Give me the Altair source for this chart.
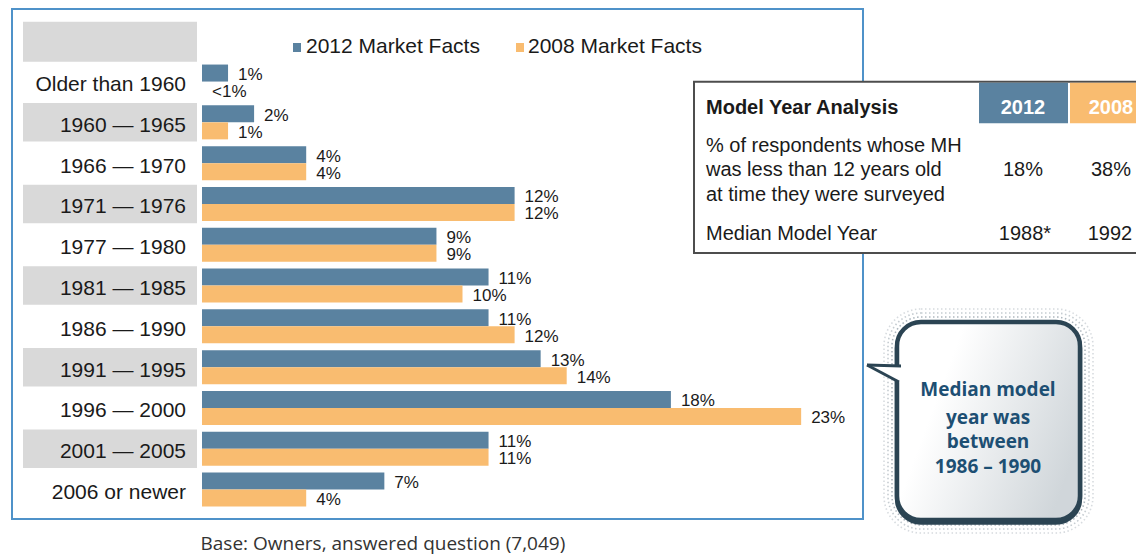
import altair as alt
import pandas as pd

# ---------------- data ----------------
categories = ["Older than 1960", "1960 — 1965", "1966 — 1970", "1971 — 1976",
              "1977 — 1980", "1981 — 1985", "1986 — 1990", "1991 — 1995",
              "1996 — 2000", "2001 — 2005", "2006 or newer"]
series_keys = ["2012", "2008"]
series_names = ["2012 Market Facts", "2008 Market Facts"]
values_2012 = [1, 2, 4, 12, 9, 11, 11, 13, 18, 11, 7]
values_2008 = [0, 1, 4, 12, 9, 10, 12, 14, 23, 11, 4]
labels_2012 = ["1%", "2%", "4%", "12%", "9%", "11%", "11%", "13%", "18%", "11%", "7%"]
labels_2008 = ["<1%", "1%", "4%", "12%", "9%", "10%", "12%", "14%", "23%", "11%", "4%"]
shaded_rows = ["1960 — 1965", "1971 — 1976", "1981 — 1985", "1991 — 1995", "2001 — 2005"]

table_title = "Model Year Analysis"
table_row1 = ["% of respondents whose MH", "was less than 12 years old", "at time they were surveyed"]
table_row1_vals = ["18%", "38%"]
table_row2 = "Median Model Year"
table_row2_vals = ["1988*", "1992"]
bubble_lines = ["Median model", "year was", "between", "1986 – 1990"]
footnote = "Base: Owners, answered question (7,049)"

BLUE = "#5a82a0"
ORANGE = "#f9bc70"
GRAY = "#d9d9d9"
TXT = "#1a1a1a"
FONT = "Liberation Sans"

rows = []
for i, c in enumerate(categories):
    rows.append({"cat": c, "s": series_keys[0], "value": values_2012[i], "label": labels_2012[i]})
    rows.append({"cat": c, "s": series_keys[1], "value": values_2008[i], "label": labels_2008[i]})
df = pd.DataFrame(rows)
cat_df = pd.DataFrame({"cat": categories})
shade_df = pd.DataFrame({"cat": shaded_rows})
one = pd.DataFrame({"k": [0]})

W, H = 1128, 548
PX_PER = 26.05
X0 = 194
xscale = alt.Scale(domain=[-X0 / PX_PER, (W - X0) / PX_PER], nice=False, zero=False)
yscale = alt.Scale(domain=categories, range=[53.16, 501.96], paddingInner=0.056, paddingOuter=0.028)
offscale = alt.Scale(domain=series_keys, paddingInner=0, paddingOuter=0.132)
cscale = alt.Scale(domain=series_keys, range=[BLUE, ORANGE])


def txt(s, x, y, size=20, weight="normal", align="left", color=TXT, font=FONT, baseline="middle"):
    return alt.Chart(one).mark_text(text=s, align=align, baseline=baseline, fontSize=size,
                                    fontWeight=weight, color=color, font=font).encode(
        x=alt.value(x), y=alt.value(y))


def box(x, x2, y, y2, **kw):
    return alt.Chart(one).mark_rect(**kw).encode(
        x=alt.value(x), x2=alt.value(x2), y=alt.value(y), y2=alt.value(y2))


layers = []
# header gray box + shaded rows
layers.append(box(15, 189, 13.7, 53.7, color=GRAY))
layers.append(alt.Chart(shade_df).mark_rect(color=GRAY).encode(
    x=alt.value(15), x2=alt.value(189),
    y=alt.Y("cat:N", scale=yscale, axis=None)))

# bars
layers.append(alt.Chart(df).mark_bar().encode(
    x=alt.X("value:Q", scale=xscale, axis=None),
    y=alt.Y("cat:N", scale=yscale, axis=None),
    yOffset=alt.YOffset("s:N", scale=offscale),
    color=alt.Color("s:N", scale=cscale, legend=None)))

# value labels
layers.append(alt.Chart(df).mark_text(align="left", baseline="middle", dx=10, dy=2,
                                      fontSize=17, font=FONT, color=TXT).encode(
    x=alt.X("value:Q", scale=xscale, axis=None),
    y=alt.Y("cat:N", scale=yscale, axis=None),
    yOffset=alt.YOffset("s:N", scale=offscale),
    text="label:N"))

# category labels
layers.append(alt.Chart(cat_df).mark_text(align="right", baseline="middle", dy=3.5,
                                          fontSize=21, font=FONT, color=TXT).encode(
    x=alt.value(178),
    y=alt.Y("cat:N", scale=yscale, axis=None),
    text="cat:N"))

# legend
layers.append(box(285, 293, 35, 44, color=BLUE))
layers.append(txt(series_names[0], 298, 45, size=21, baseline="alphabetic"))
layers.append(box(508, 516, 35, 44, color=ORANGE))
layers.append(txt(series_names[1], 520, 45, size=21, baseline="alphabetic"))

# blue frame
layers.append(box(4, 855, 1, 511, fillOpacity=0, stroke="#4f92c9", strokeWidth=2))

# table
layers.append(box(686, 1150, 73.7, 245, fill="white", stroke="#4d4d4d", strokeWidth=2))
layers.append(box(971, 1060, 74.7, 115.3, color=BLUE))
layers.append(box(1062, 1150, 74.7, 115.3, color=ORANGE))
layers.append(txt(table_title, 698, 100, size=20, weight="bold"))
layers.append(txt(series_keys[0], 1015, 100, size=20, weight="bold", align="center", color="white"))
layers.append(txt(series_keys[1], 1103, 100, size=20, weight="bold", align="center", color="white"))
for line, yy in zip(table_row1, [138, 162, 187]):
    layers.append(txt(line, 698, yy, size=20))
layers.append(txt(table_row1_vals[0], 1015, 162, size=20, align="center"))
layers.append(txt(table_row1_vals[1], 1103, 162, size=20, align="center"))
layers.append(txt(table_row2, 698, 226, size=20))
layers.append(txt(table_row2_vals[0], 1017, 226, size=20, align="center"))
layers.append(txt(table_row2_vals[1], 1102, 226, size=20, align="center"))

# speech bubble
for d, op in [(13, 0.35), (9, 0.5), (5, 0.7)]:
    layers.append(box(889 - d, 1072 + d, 314 - d, 512 + d, cornerRadius=24 + d, fillOpacity=0,
                      stroke="#8c99a3", strokeWidth=1.6, strokeDash=[1.5, 2.5], strokeOpacity=op))
grad = alt.Gradient(gradient="linear",
                    stops=[alt.GradientStop(color="#ffffff", offset=0),
                           alt.GradientStop(color="#ffffff", offset=0.25),
                           alt.GradientStop(color="#d0d6da", offset=1)],
                    x1=0, x2=1, y1=0.2, y2=0.6)
layers.append(box(889, 1072, 316.5, 514.5, cornerRadius=24, fill="#2b4453", stroke="#2b4453", strokeWidth=4.5))
layers.append(box(889, 1072, 314, 512, cornerRadius=24, fill=grad, stroke="#2b4453", strokeWidth=4.5))
layers.append(alt.Chart(one).mark_point(shape="M -0.95 -0.5 L 0.95 -0.45 L 0.95 0.5 Z", size=1600,
                                        filled=True, color="white", opacity=1).encode(
    x=alt.value(878), y=alt.value(367)))
layers.append(alt.Chart(one).mark_rule(color="#2b4453", strokeWidth=3).encode(
    x=alt.value(859), y=alt.value(357), x2=alt.value(893), y2=alt.value(358)))
layers.append(alt.Chart(one).mark_rule(color="#2b4453", strokeWidth=3).encode(
    x=alt.value(859), y=alt.value(357), x2=alt.value(891), y2=alt.value(374)))
for line, yy in zip(bubble_lines, [382, 409.5, 433.5, 458.5]):
    layers.append(txt(line, 980, yy, size=19, weight="bold", align="center",
                      color="#1d4f73", font="Open Sans"))

# footnote
layers.append(txt(footnote, 192.5, 536, size=19, font="Open Sans", color="#333333"))

chart = alt.layer(*layers).properties(
    width=W, height=H, padding=0,
    autosize=alt.AutoSizeParams(type="none")
).configure_view(strokeWidth=0)

chart.save("out.html", embed_options={"renderer": "svg", "actions": False})
